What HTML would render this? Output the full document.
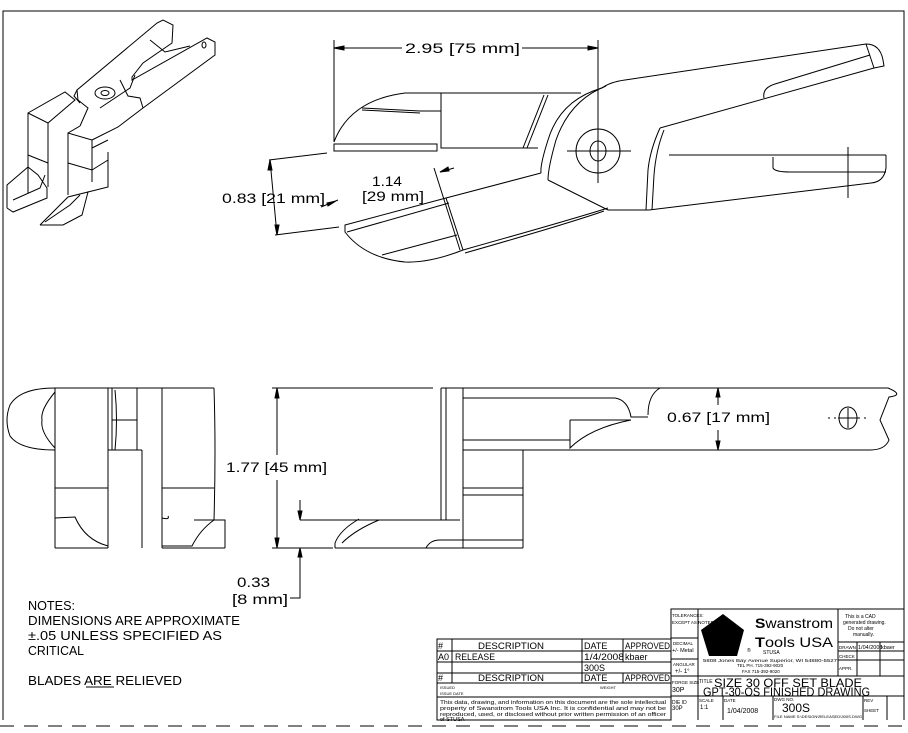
<!DOCTYPE html>
<html><head><meta charset="utf-8"><style>
html,body{margin:0;padding:0;background:#fff;}
svg{display:block;}
text{font-family:"Liberation Sans",sans-serif;fill:#000;}
</style></head><body>
<svg width="908" height="733" viewBox="0 0 908 733" xmlns="http://www.w3.org/2000/svg">
<g fill="none" stroke="#000" stroke-width="1">
<!-- frame -->
<polyline points="3,720 3,11 904,11 904,720"/>
<line x1="3" y1="720" x2="904" y2="720" stroke-width="0"/>
<line x1="0" y1="726" x2="905" y2="726" stroke-dasharray="14,10"/>

<!-- ISO view -->
<polyline points="28,193 28,113 65,92 75,100 48,123 28,113"/>
<line x1="48" y1="123" x2="48" y2="187"/>
<polyline points="28,155 48,163"/>
<polyline points="68,195 68,133 92,140 92,182"/>
<polyline points="68,133 80,126"/>
<polyline points="92,140 118,127 143,108 215,55 215,42 207,38 132,80 132,77 143,63 172,43 173,25 163,20 157,23 77,90 78,100 88,108 80,126"/>
<polyline points="108,152 108,187 88,192"/>
<polyline points="92,148 108,140"/>
<polyline points="68,163 92,170 108,160"/>
<ellipse cx="105" cy="93" rx="10" ry="6"/>
<ellipse cx="105" cy="93" rx="4" ry="2.5"/>
<polyline points="77,90 74,96 80,103"/>
<polyline points="120,80 128,96 140,98 143,108"/>
<polyline points="100,108 130,88 135,75"/>
<ellipse cx="204" cy="45" rx="2" ry="3"/>
<polyline points="150,40 165,52 190,46"/>
<polyline points="7,208 7,185 28,167 38,175 47,188 47,198 13,212 7,208"/>
<polyline points="13,200 40,188 45,175"/>
<polyline points="40,225 68,197 88,192 82,215 63,225 40,225"/>
<polyline points="45,222 70,205 80,195"/>

<!-- TOP VIEW -->
<!-- dim 2.95 -->
<line x1="334" y1="40" x2="334" y2="142"/>
<line x1="598" y1="40" x2="598" y2="183"/>
<line x1="334" y1="48" x2="402" y2="48"/>
<line x1="522" y1="48" x2="598" y2="48"/>
<polygon points="334,48 344,46 344,50" fill="#000"/>
<polygon points="598,48 588,46 588,50" fill="#000"/>
<!-- upper jaw -->
<path d="M334,142 Q350,100 405,93 L581,93"/>
<rect x="441" y="93" width="0.01" height="55"/>
<line x1="441" y1="93" x2="441" y2="148"/>
<line x1="441" y1="148" x2="538" y2="148"/>
<rect x="334" y="144" width="103" height="7"/>
<polyline points="362,108 420,111 441,111"/>
<polyline points="362,110 420,113"/>
<line x1="548" y1="95" x2="527" y2="148"/>
<line x1="544" y1="95" x2="523" y2="148"/>
<!-- S curve around pivot -->
<path d="M602,88 Q560,100 548,140 Q540,165 541,173"/>
<path d="M606,86 Q570,100 556,140 Q548,168 548,180"/>
<!-- pivot -->
<circle cx="598" cy="151" r="22"/>
<ellipse cx="598" cy="151" rx="8" ry="10"/>
<line x1="567" y1="151" x2="631" y2="151"/>
<line x1="598" y1="128" x2="598" y2="183"/>
<!-- upper handle -->
<path d="M602,88 Q610,82 625,80 L866,44 Q880,44 883,60 L884,66 L874,68 L660,128"/>
<path d="M764,98 Q762,88 775,84 L870,55"/>
<line x1="866" y1="44" x2="874" y2="68"/>
<!-- lower handle -->
<path d="M660,128 Q650,150 648,170 L646,210"/>
<path d="M664,130 Q656,150 654,175 L652,210"/>
<line x1="669" y1="155" x2="886" y2="155"/>
<path d="M886,155 L886,168 Q884,182 871,183 L649,210 L608,210"/>
<path d="M773,157 L773,168 Q775,172 790,172 L886,172"/>
<line x1="848" y1="147" x2="848" y2="198"/>
<!-- lower jaw -->
<line x1="541" y1="173" x2="446" y2="198"/>
<path d="M608,208 Q570,220 463,250"/>
<path d="M604,211 Q570,223 465,253"/>
<path d="M345,225 L446,198 L463,250 Q430,263 405,262 Q365,258 345,232 Z"/>
<line x1="347" y1="232" x2="449" y2="203"/>
<line x1="382" y1="255" x2="457" y2="235"/>
<line x1="548" y1="180" x2="608" y2="210"/>
<!-- dim 0.83 -->
<line x1="327" y1="153" x2="269" y2="160"/>
<line x1="339" y1="227" x2="275" y2="235"/>
<line x1="270" y1="160" x2="277" y2="235"/>
<polygon points="270,160 268,170 272,170" fill="#000"/>
<polygon points="277,235 275,225 279,225" fill="#000"/>
<line x1="321" y1="207" x2="338" y2="200"/>
<polygon points="336,201 328,206 327,203" fill="#000"/>
<!-- dim 1.14 -->
<line x1="434" y1="168" x2="460" y2="250"/>
<line x1="440" y1="172" x2="454" y2="168"/>
<polygon points="440,172 448,167 449,171" fill="#000"/>

<!-- SIDE VIEW left -->
<path d="M55,388 Q20,388 10,405 Q4,420 10,436 Q20,450 55,450"/>
<path d="M55,392 Q40,410 42,420 Q40,432 55,448"/>
<line x1="55" y1="388" x2="214" y2="388"/>
<line x1="55" y1="388" x2="55" y2="548"/>
<line x1="108" y1="388" x2="108" y2="548"/>
<line x1="142" y1="450" x2="142" y2="548"/>
<line x1="162" y1="388" x2="162" y2="548"/>
<path d="M214,388 Q216,450 214,520"/>
<line x1="108" y1="450" x2="142" y2="450"/>
<line x1="112" y1="388" x2="112" y2="450"/>
<line x1="137" y1="388" x2="137" y2="450"/>
<line x1="112" y1="420" x2="137" y2="420"/>
<line x1="55" y1="488" x2="108" y2="488"/>
<line x1="162" y1="488" x2="214" y2="488"/>
<line x1="55" y1="548" x2="108" y2="548"/>
<line x1="162" y1="548" x2="225" y2="548"/>
<polyline points="194,520 225,520 225,548"/>
<path d="M55,518 L75,517 Q85,540 108,546"/>
<path d="M162,518 Q170,520 168,516 M162,546 L192,546 Q200,530 214,520"/>
<path d="M115,390 Q118,420 115,450"/>
<!-- SIDE VIEW right -->
<line x1="272" y1="388" x2="433" y2="388"/>
<line x1="441" y1="388" x2="441" y2="520"/>
<line x1="446" y1="388" x2="446" y2="520"/>
<line x1="463" y1="388" x2="463" y2="548"/>
<path d="M441,388 L888,388 Q905,395 889,397 L880,420 L889,440 Q885,450 870,450 L463,450"/>
<path d="M463,398 L615,398 Q628,400 631,417 L648,417"/>
<path d="M660,388 Q648,395 648,415"/>
<path d="M570,420 L631,420"/>
<path d="M570,420 L570,448 Q590,428 631,420"/>
<line x1="463" y1="440" x2="570" y2="440"/>
<line x1="523" y1="450" x2="523" y2="548"/>
<line x1="463" y1="488" x2="523" y2="488"/>
<line x1="463" y1="495" x2="523" y2="495"/>
<line x1="300" y1="520" x2="460" y2="520"/>
<line x1="272" y1="548" x2="333" y2="548"/>
<line x1="335" y1="548" x2="523" y2="548"/>
<path d="M359,519 Q340,530 335,543 L335,548"/>
<path d="M379,520 Q355,530 342,543"/>
<path d="M426,548 Q430,540 440,540 L523,540"/>
<!-- dim 1.77 -->
<line x1="277" y1="388" x2="277" y2="455"/>
<line x1="277" y1="480" x2="277" y2="548"/>
<polygon points="277,388 275,398 279,398" fill="#000"/>
<polygon points="277,548 275,538 279,538" fill="#000"/>
<!-- dim 0.33 -->
<line x1="300" y1="500" x2="300" y2="520"/>
<polygon points="300,520 298,511 302,511" fill="#000"/>
<polyline points="300,548 300,598 290,598"/>
<polygon points="300,548 298,557 302,557" fill="#000"/>
<!-- dim 0.67 -->
<line x1="718" y1="388" x2="718" y2="405"/>
<line x1="718" y1="430" x2="718" y2="450"/>
<polygon points="718,388 716,397 720,397" fill="#000"/>
<polygon points="718,450 716,441 720,441" fill="#000"/>
<!-- hole -->
<ellipse cx="848" cy="418" rx="9" ry="11"/>
<line x1="838" y1="418" x2="858" y2="418"/>
<line x1="848" y1="408" x2="848" y2="428"/>
<line x1="828" y1="418" x2="868" y2="418" stroke-dasharray="2,4"/>

<!-- TITLE BLOCK -->
<polyline points="671,720 671,609 904,609"/>
<line x1="698" y1="609" x2="698" y2="720"/>
<line x1="838" y1="609" x2="838" y2="676"/>
<line x1="671" y1="638" x2="698" y2="638"/>
<line x1="671" y1="659" x2="698" y2="659"/>
<line x1="671" y1="676" x2="904" y2="676"/>
<line x1="671" y1="696" x2="904" y2="696"/>
<line x1="838" y1="642" x2="904" y2="642"/>
<line x1="838" y1="651" x2="904" y2="651"/>
<line x1="838" y1="660" x2="904" y2="660"/>
<line x1="857" y1="642" x2="857" y2="676"/>
<line x1="880" y1="642" x2="880" y2="676"/>
<line x1="723" y1="696" x2="723" y2="720"/>
<line x1="773" y1="696" x2="773" y2="720"/>
<line x1="863" y1="696" x2="863" y2="720"/>
<line x1="887" y1="696" x2="887" y2="720"/>
<!-- revision table -->
<rect x="437" y="639" width="234" height="81"/>
<line x1="437" y1="651" x2="671" y2="651"/>
<line x1="437" y1="662" x2="671" y2="662"/>
<line x1="437" y1="673" x2="671" y2="673"/>
<line x1="437" y1="683" x2="671" y2="683"/>
<line x1="437" y1="697" x2="671" y2="697"/>
<line x1="452" y1="639" x2="452" y2="683"/>
<line x1="582" y1="639" x2="582" y2="683"/>
<line x1="623" y1="639" x2="623" y2="662"/>
<line x1="623" y1="673" x2="623" y2="683"/>
</g>
<polygon points="723,614 744,630 737,656 709,656 701,630" fill="#000"/>

<!-- TEXT -->
<text x="405" y="53" font-size="14" textLength="115" lengthAdjust="spacingAndGlyphs">2.95 [75 mm]</text>
<text x="222" y="203" font-size="14" textLength="103" lengthAdjust="spacingAndGlyphs">0.83 [21 mm]</text>
<text x="372" y="186" font-size="14" textLength="30" lengthAdjust="spacingAndGlyphs">1.14</text>
<text x="362" y="201" font-size="14" textLength="62" lengthAdjust="spacingAndGlyphs">[29 mm]</text>
<text x="226" y="472" font-size="14" textLength="101" lengthAdjust="spacingAndGlyphs">1.77 [45 mm]</text>
<text x="667" y="422" font-size="14" textLength="103" lengthAdjust="spacingAndGlyphs">0.67 [17 mm]</text>
<text x="237" y="587" font-size="14" textLength="33" lengthAdjust="spacingAndGlyphs">0.33</text>
<text x="232" y="604" font-size="14" textLength="56" lengthAdjust="spacingAndGlyphs">[8 mm]</text>
<text x="28" y="610" font-size="13" textLength="47" lengthAdjust="spacingAndGlyphs">NOTES:</text>
<text x="28" y="625" font-size="13" textLength="212" lengthAdjust="spacingAndGlyphs">DIMENSIONS ARE APPROXIMATE</text>
<text x="28" y="640" font-size="13" textLength="194" lengthAdjust="spacingAndGlyphs">±.05 UNLESS SPECIFIED AS</text>
<text x="28" y="655" font-size="13" textLength="56" lengthAdjust="spacingAndGlyphs">CRITICAL</text>
<text x="28" y="685" font-size="13" textLength="154" lengthAdjust="spacingAndGlyphs">BLADES ARE RELIEVED</text>
<line x1="86" y1="687" x2="114" y2="687" stroke="#000"/>
<!-- title block text -->
<text x="438" y="649" font-size="9">#</text>
<text x="478" y="649" font-size="9" textLength="66" lengthAdjust="spacingAndGlyphs">DESCRIPTION</text>
<text x="584" y="649" font-size="9">DATE</text>
<text x="625" y="649" font-size="9" textLength="45" lengthAdjust="spacingAndGlyphs">APPROVED</text>
<text x="438" y="660" font-size="9">A0</text>
<text x="455" y="660" font-size="9" textLength="40" lengthAdjust="spacingAndGlyphs">RELEASE</text>
<text x="584" y="660" font-size="9" textLength="40" lengthAdjust="spacingAndGlyphs">1/4/2008</text>
<text x="625" y="660" font-size="9">kbaer</text>
<text x="584" y="671" font-size="9">300S</text>
<text x="438" y="681" font-size="9">#</text>
<text x="478" y="681" font-size="9" textLength="66" lengthAdjust="spacingAndGlyphs">DESCRIPTION</text>
<text x="584" y="681" font-size="9">DATE</text>
<text x="625" y="681" font-size="9" textLength="45" lengthAdjust="spacingAndGlyphs">APPROVED</text>
<text x="440" y="689" font-size="4">ISSUED</text>
<text x="440" y="695" font-size="4">ISSUE DATE</text>
<text x="600" y="689" font-size="4">WEIGHT</text>
<text x="440" y="704" font-size="5.5" textLength="226" lengthAdjust="spacingAndGlyphs">This data, drawing, and information on this document are the sole intellectual</text>
<text x="440" y="710" font-size="5.5" textLength="226" lengthAdjust="spacingAndGlyphs">property of Swanstrom Tools USA Inc. It is confidential and may not be</text>
<text x="440" y="716" font-size="5.5" textLength="226" lengthAdjust="spacingAndGlyphs">reproduced, used, or disclosed without prior written permission of an officer</text>
<text x="440" y="721" font-size="5.5">of STUSA</text>
<text x="672" y="617" font-size="4.5">TOLERANCES:</text>
<text x="672" y="624" font-size="4.5">EXCEPT AS NOTED</text>
<text x="673" y="645" font-size="4.5">DECIMAL</text>
<text x="672" y="652" font-size="5.5">+/- Metal</text>
<text x="673" y="666" font-size="4.5">ANGULAR</text>
<text x="675" y="673" font-size="6">+/- 1°</text>
<text x="672" y="684" font-size="4.5">FORGE SIZE</text>
<text x="672" y="692" font-size="7">30P</text>
<text x="672" y="704" font-size="5">DIE ID</text>
<text x="672" y="710" font-size="6">30P</text>
<text x="755" y="628" font-size="14" textLength="78" lengthAdjust="spacingAndGlyphs"><tspan font-weight="bold">S</tspan>wanstrom</text>
<text x="755" y="647" font-size="14" textLength="78" lengthAdjust="spacingAndGlyphs"><tspan font-weight="bold">T</tspan>ools USA</text>
<text x="747" y="652" font-size="5">®</text>
<text x="763" y="654" font-size="5">STUSA</text>
<text x="703" y="662" font-size="4.5" textLength="134" lengthAdjust="spacingAndGlyphs">5808 Jones Bay Avenue Superior, WI 54880-5527</text>
<text x="737" y="667" font-size="4.5">TEL PH. 715-392-9020</text>
<text x="742" y="673" font-size="4.5">FAX 715-392-9020</text>
<text x="845" y="618" font-size="5">This is a CAD</text>
<text x="843" y="624" font-size="5">generated drawing.</text>
<text x="848" y="630" font-size="5">Do not alter</text>
<text x="853" y="636" font-size="5">manually.</text>
<text x="839" y="649" font-size="4.5">DRAWN</text>
<text x="858" y="649" font-size="5.5">1/04/2008</text>
<text x="881" y="649" font-size="5.5">kbaer</text>
<text x="839" y="658" font-size="4.5">CHECK</text>
<text x="839" y="670" font-size="4.5">APPR.</text>
<text x="699" y="683" font-size="5">TITLE</text>
<text x="714" y="687" font-size="12" textLength="148" lengthAdjust="spacingAndGlyphs">SIZE 30 OFF SET BLADE</text>
<text x="703" y="696" font-size="12" textLength="167" lengthAdjust="spacingAndGlyphs">GPT-30-OS FINISHED DRAWING</text>
<text x="699" y="702" font-size="4.5">SCALE</text>
<text x="700" y="709" font-size="6">1:1</text>
<text x="724" y="702" font-size="4.5">DATE</text>
<text x="727" y="713" font-size="7">1/04/2008</text>
<text x="774" y="701" font-size="4.5">DWG NO.</text>
<text x="782" y="712" font-size="12">300S</text>
<text x="774" y="718" font-size="4" textLength="88" lengthAdjust="spacingAndGlyphs">FILE NAME S:\DESIGN\RELEASED\300S.DWG</text>
<text x="864" y="702" font-size="4.5">REV</text>
<text x="864" y="712" font-size="4.5">SHEET</text>
</svg>
</body></html>
